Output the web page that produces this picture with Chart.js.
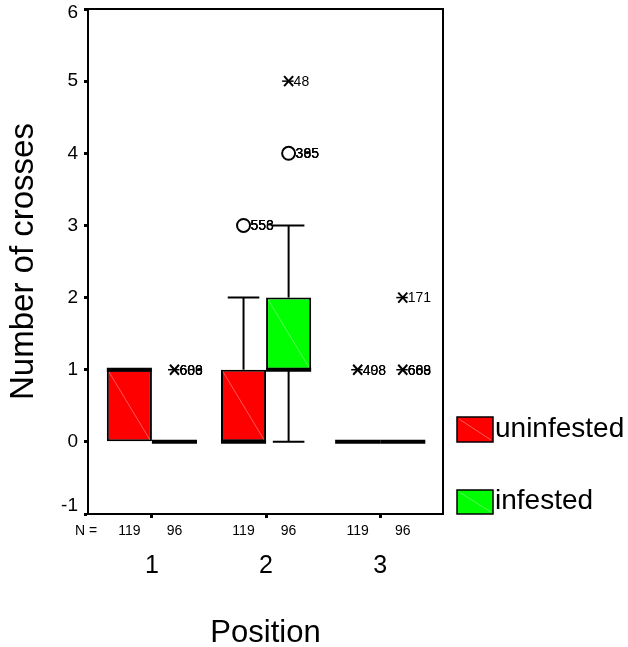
<!DOCTYPE html>
<html>
<head>
<meta charset="utf-8">
<script src="https://cdn.jsdelivr.net/npm/chart.js@4"></script>
<style>
  html,body{margin:0;padding:0;background:#fff;}
  #wrap{width:628px;height:647px;}
</style>
</head>
<body>
<div id="wrap"><canvas id="c" width="628" height="647"></canvas></div>
<script>
// categories
const positions=[1,2,3];
const seriesNames=['uninfested','infested'];
const seriesColors=['#ff0000','#00ff00'];

// box stats per position (uninfested)
const uninfQ1=[0,0,0];
const uninfQ3=[1,1,0];
const uninfMedian=[1,0,0];
const uninfLow=[0,0,0];
const uninfHigh=[1,2,0];
const uninfN=[119,119,119];

// box stats per position (infested)
const infQ1=[0,1,0];
const infQ3=[0,2,0];
const infMedian=[0,1,0];
const infLow=[0,0,0];
const infHigh=[0,3,0];
const infN=[96,96,96];

// outliers (o) and extremes (*), with case numbers printed next to them
const uninfOutPos=[2,3];
const uninfOutVal=[3,1];
const uninfOutKind=['o','*'];
const uninfOutIds=[['556','558','553'],['498','408']];
const infOutPos=[1,2,2,3,3];
const infOutVal=[1,4,5,2,1];
const infOutKind=['*','o','*','*','*'];
const infOutIds=[['608','609','686'],['365','385','395'],['48'],['171'],['669','608','688']];

const yTicks=[-1,0,1,2,3,4,5,6];

const FONT="'Liberation Sans', Arial, sans-serif";

const stats=[
  {q1:uninfQ1,q3:uninfQ3,med:uninfMedian,lo:uninfLow,hi:uninfHigh,n:uninfN,
   oPos:uninfOutPos,oVal:uninfOutVal,oKind:uninfOutKind,oIds:uninfOutIds},
  {q1:infQ1,q3:infQ3,med:infMedian,lo:infLow,hi:infHigh,n:infN,
   oPos:infOutPos,oVal:infOutVal,oKind:infOutKind,oIds:infOutIds}
];

const line=(ctx,x0,y0,x1,y1)=>{ctx.beginPath();ctx.moveTo(x0,y0);ctx.lineTo(x1,y1);ctx.stroke();};

const boxExtras={
  id:'boxExtras',
  afterDatasetsDraw(chart){
    const {ctx,chartArea:a,scales:{y}}=chart;
    ctx.save();
    stats.forEach((s,d)=>{
      const meta=chart.getDatasetMeta(d);
      meta.data.forEach((bar,i)=>{
        const half=bar.width/2, x0=bar.x-half, x1=bar.x+half;
        const top=y.getPixelForValue(s.q3[i]), bot=y.getPixelForValue(s.q1[i]);
        // faint diagonal inside the box
        if(bot-top>3){
          ctx.strokeStyle='rgba(255,255,255,0.35)';ctx.lineWidth=1;
          line(ctx,x0+2,top+2,x1-2,bot-2);
        }
        ctx.strokeStyle='#000';ctx.lineWidth=2;
        const cap=bar.width*0.35;
        if(s.hi[i]>s.q3[i]){
          const yh=y.getPixelForValue(s.hi[i]);
          line(ctx,bar.x,top,bar.x,yh);
          line(ctx,bar.x-cap,yh,bar.x+cap,yh);
        }
        if(s.lo[i]<s.q1[i]){
          const yl=y.getPixelForValue(s.lo[i]);
          line(ctx,bar.x,bot,bar.x,yl);
          line(ctx,bar.x-cap,yl,bar.x+cap,yl);
        }
        ctx.lineWidth=4;
        const ym=y.getPixelForValue(s.med[i]);
        line(ctx,x0,ym,x1,ym);
      });
      // outliers and extremes
      ctx.font='14px '+FONT;ctx.textBaseline='middle';ctx.textAlign='left';ctx.fillStyle='#000';
      s.oPos.forEach((p,k)=>{
        const bar=meta.data[positions.indexOf(p)];
        const px=bar.x, py=y.getPixelForValue(s.oVal[k]);
        let tx;
        if(s.oKind[k]==='o'){
          ctx.lineWidth=2;ctx.strokeStyle='#000';
          ctx.beginPath();ctx.arc(px,py,6.5,0,Math.PI*2);ctx.stroke();
          tx=px+7;
        }else{
          ctx.lineWidth=2;ctx.strokeStyle='#000';
          line(ctx,px-4.5,py-5,px+4.5,py+5);
          line(ctx,px-4.5,py+5,px+4.5,py-5);
          ctx.lineWidth=1.5;
          line(ctx,px-6.5,py,px+5,py);
          tx=px+5;
        }
        s.oIds[k].forEach(id=>ctx.fillText(id,tx,py+1));
      });
    });
    // frame
    ctx.strokeStyle='#000';ctx.lineWidth=2;
    ctx.strokeRect(a.left,a.top,a.right-a.left,a.bottom-a.top);
    // N row
    const ny=a.bottom+17;
    ctx.font='14px '+FONT;ctx.textBaseline='middle';ctx.fillStyle='#000';
    ctx.textAlign='left';ctx.fillText('N =',a.left-13,ny);
    ctx.textAlign='center';
    stats.forEach((s,d)=>{
      chart.getDatasetMeta(d).data.forEach((bar,i)=>ctx.fillText(String(s.n[i]),bar.x,ny));
    });
    // legend
    const lx=a.right+14;
    const rows=[{top:417,h:25,base:437},{top:490,h:24,base:509}];
    seriesNames.forEach((name,d)=>{
      const r=rows[d];
      ctx.fillStyle=seriesColors[d];ctx.fillRect(lx,r.top,36,r.h);
      ctx.strokeStyle='rgba(255,255,255,0.35)';ctx.lineWidth=1;
      line(ctx,lx+2,r.top+2,lx+34,r.top+r.h-2);
      ctx.strokeStyle='#000';ctx.lineWidth=1.5;ctx.strokeRect(lx,r.top,36,r.h);
      ctx.fillStyle='#000';ctx.font='28px '+FONT;ctx.textAlign='left';ctx.textBaseline='alphabetic';
      ctx.fillText(name,lx+38,r.base);
    });
    ctx.restore();
  }
};

const datasets=seriesNames.map((name,d)=>({
  label:name,
  data:positions.map((p,i)=>({x:p,y:[stats[d].q1[i],stats[d].q3[i]]})),
  backgroundColor:seriesColors[d],
  borderColor:'#000',
  borderWidth:2,
  borderSkipped:false,
  categoryPercentage:0.79,
  barPercentage:1
}));

// end labels sit just inside the axis range, as in the original
const yMin=yTicks[0], yMax=yTicks[yTicks.length-1];

new Chart(document.getElementById('c'),{
  type:'bar',
  data:{datasets},
  plugins:[boxExtras],
  options:{
    responsive:false,
    animation:false,
    layout:{padding:{top:9,right:185,left:0,bottom:0}},
    plugins:{legend:{display:false},tooltip:{enabled:false}},
    scales:{
      x:{
        type:'linear',min:0.44,max:3.55,offset:false,
        afterBuildTicks:s=>{s.ticks=positions.map(v=>({value:v}));},
        afterFit:s=>{s.height=133;},
        ticks:{color:'#000',font:{family:FONT,size:25},padding:33,maxRotation:0,callback:v=>String(v)},
        grid:{offset:false,drawOnChartArea:false,drawTicks:true,tickLength:4,tickWidth:3,tickColor:'#000'},
        border:{display:true,color:'#000',width:2},
        title:{display:true,text:'Position',color:'#000',font:{family:FONT,size:31,lineHeight:0.85},padding:{top:0,bottom:0}}
      },
      y:{
        min:yMin,max:yMax,
        afterBuildTicks:s=>{s.ticks=yTicks.map(v=>({value:v}));},
        afterFit:s=>{s.width=88;s.paddingTop=0;s.paddingBottom=0;},
        ticks:{
          color:'#000',padding:6,
          callback:v=>v===yMax?['',String(v)]:v===yMin?[String(v),'']:String(v),
          font:c=>({family:FONT,size:19,lineHeight:c.tick&&c.tick.value===yMin?'16px':'8px'})
        },
        grid:{drawOnChartArea:false,drawTicks:true,tickLength:4,tickWidth:3,tickColor:'#000'},
        border:{display:true,color:'#000',width:2},
        title:{display:true,text:'Number of crosses',color:'#000',font:{family:FONT,size:33,lineHeight:1},padding:{top:7,bottom:0}}
      }
    }
  }
});
</script>
</body>
</html>
